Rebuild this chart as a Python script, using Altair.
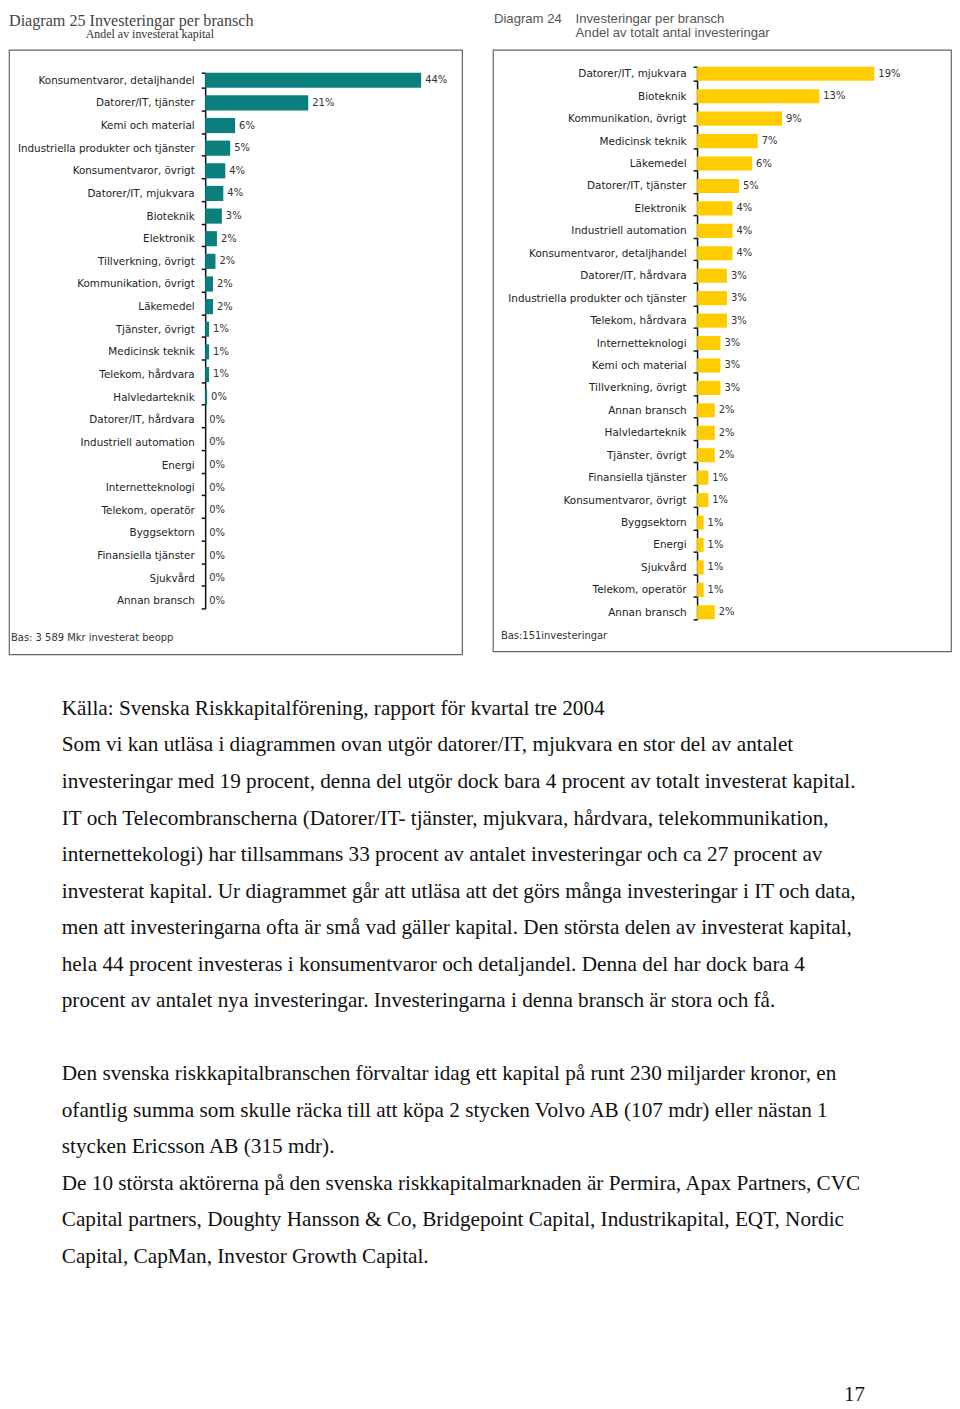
import json
import altair as alt
import pandas as pd

# ---------------- data ----------------
left_categories = [
    "Konsumentvaror, detaljhandel", "Datorer/IT, tjänster", "Kemi och material",
    "Industriella produkter och tjänster", "Konsumentvaror, övrigt", "Datorer/IT, mjukvara",
    "Bioteknik", "Elektronik", "Tillverkning, övrigt", "Kommunikation, övrigt", "Läkemedel",
    "Tjänster, övrigt", "Medicinsk teknik", "Telekom, hårdvara", "Halvledarteknik",
    "Datorer/IT, hårdvara", "Industriell automation", "Energi", "Internetteknologi",
    "Telekom, operatör", "Byggsektorn", "Finansiella tjänster", "Sjukvård", "Annan bransch",
]
left_values = [44, 21, 6.1, 5.1, 4.1, 3.7, 3.4, 2.4, 2.1, 1.6, 1.6, 0.8, 0.8, 0.8, 0.4,
               0, 0, 0, 0, 0, 0, 0, 0, 0]
left_labels = ["44%", "21%", "6%", "5%", "4%", "4%", "3%", "2%", "2%", "2%", "2%", "1%",
               "1%", "1%", "0%", "0%", "0%", "0%", "0%", "0%", "0%", "0%", "0%", "0%"]

right_categories = [
    "Datorer/IT, mjukvara", "Bioteknik", "Kommunikation, övrigt", "Medicinsk teknik",
    "Läkemedel", "Datorer/IT, tjänster", "Elektronik", "Industriell automation",
    "Konsumentvaror, detaljhandel", "Datorer/IT, hårdvara", "Industriella produkter och tjänster",
    "Telekom, hårdvara", "Internetteknologi", "Kemi och material", "Tillverkning, övrigt",
    "Annan bransch", "Halvledarteknik", "Tjänster, övrigt", "Finansiella tjänster",
    "Konsumentvaror, övrigt", "Byggsektorn", "Energi", "Sjukvård", "Telekom, operatör",
    "Annan bransch",
]
right_values = [19, 13.1, 9.1, 6.5, 5.9, 4.5, 3.8, 3.8, 3.8, 3.2, 3.2, 3.2, 2.5, 2.5, 2.5,
                1.9, 1.9, 1.9, 1.2, 1.2, 0.7, 0.7, 0.7, 0.7, 1.9]
right_labels = ["19%", "13%", "9%", "7%", "6%", "5%", "4%", "4%", "4%", "3%", "3%", "3%",
                "3%", "3%", "3%", "2%", "2%", "2%", "1%", "1%", "1%", "1%", "1%", "1%", "2%"]

left_title = "Diagram 25 Investeringar per bransch"
left_subtitle = "Andel av investerat kapital"
left_note = "Bas: 3 589 Mkr investerat beopp"
right_title_a = "Diagram 24"
right_title_b = "Investeringar per bransch"
right_subtitle = "Andel av totalt antal investeringar"
right_note = "Bas:151investeringar"

text_lines = [
    "Källa: Svenska Riskkapitalförening, rapport för kvartal tre 2004",
    "Som vi kan utläsa i diagrammen ovan utgör datorer/IT, mjukvara en stor del av antalet",
    "investeringar med 19 procent, denna del utgör dock bara 4 procent av totalt investerat kapital.",
    "IT och Telecombranscherna (Datorer/IT- tjänster, mjukvara, hårdvara, telekommunikation,",
    "internettekologi) har tillsammans 33 procent av antalet investeringar och ca 27 procent av",
    "investerat kapital. Ur diagrammet går att utläsa att det görs många investeringar i IT och data,",
    "men att investeringarna ofta är små vad gäller kapital. Den största delen av investerat kapital,",
    "hela 44 procent investeras i konsumentvaror och detaljandel. Denna del har dock bara 4",
    "procent av antalet nya investeringar. Investeringarna i denna bransch är stora och få.",
    "",
    "Den svenska riskkapitalbranschen förvaltar idag ett kapital på runt 230 miljarder kronor, en",
    "ofantlig summa som skulle räcka till att köpa 2 stycken Volvo AB (107 mdr) eller nästan 1",
    "stycken Ericsson AB (315 mdr).",
    "De 10 största aktörerna på den svenska riskkapitalmarknaden är Permira, Apax Partners, CVC",
    "Capital partners, Doughty Hansson & Co, Bridgepoint Capital, Industrikapital, EQT, Nordic",
    "Capital, CapMan, Investor Growth Capital.",
]
page_number = "17"

SANS = "Liberation Sans"
WIDE = "DejaVu Sans"
SERIF = "Liberation Serif"


def label_expr(cats):
    return "[" + ",".join(json.dumps(c, ensure_ascii=False) for c in cats) + "][datum.value]"


def panel(cats, vals, labs, color, w, h, axis_x, yrange, xdomain, px_per_unit,
          pad_inner, label_size, titles, note):
    df = pd.DataFrame({"idx": list(range(len(cats))), "value": vals, "label": labs})
    y = alt.Y(
        "idx:O",
        scale=alt.Scale(range=yrange, paddingInner=pad_inner, paddingOuter=0),
        axis=alt.Axis(
            title=None, labelExpr=label_expr(cats), offset=-axis_x, tickBand="extent",
            domainColor="#111", domainWidth=1.5, tickColor="#111", tickWidth=1.5, tickSize=4,
            labelFont=WIDE, labelFontSize=label_size, labelColor="#222", labelPadding=7,
            labelLimit=300, grid=False,
        ),
    )
    x = alt.X(
        "value:Q",
        scale=alt.Scale(domain=xdomain, range=[axis_x, axis_x + px_per_unit * xdomain[1]]),
        axis=None,
    )
    base = alt.Chart(df)
    bars = base.mark_bar(color=color).encode(x=x, y=y)
    txt = base.mark_text(align="left", baseline="middle", dx=4, font=WIDE, fontSize=10,
                         color="#333").encode(x=x, y=y, text="label:N")
    layers = [bars, txt]
    for (t, tx, ty, font, size, color_t) in titles:
        layers.append(
            alt.Chart(pd.DataFrame({"t": [t]})).mark_text(
                align="left", baseline="top", font=font, fontSize=size, color=color_t
            ).encode(x=alt.value(tx), y=alt.value(ty), text="t:N")
        )
    nt, nx, ny = note
    layers.append(
        alt.Chart(pd.DataFrame({"t": [nt]})).mark_text(
            align="left", baseline="middle", font=WIDE, fontSize=10, color="#333"
        ).encode(x=alt.value(nx), y=alt.value(ny), text="t:N")
    )
    return alt.layer(*layers).properties(
        width=w, height=h, view=alt.ViewBackground(stroke="#666", strokeWidth=1.2)
    )


left = panel(
    left_categories, left_values, left_labels, "#0b7f7c", 455, 607, 197, [23, 561],
    [0, 50], 4.93, 0.33, 10.4,
    [(left_title, 0, -37, SERIF, 16.2, "#444"), (left_subtitle, 77, -21, SERIF, 12, "#333")],
    (left_note, 2, 591),
)
right = panel(
    right_categories, right_values, right_labels, "#ffcc00", 460, 604, 205, [17, 572],
    [0, 25], 9.37, 0.37, 10.5,
    [(right_title_a, 1, -37, SANS, 13.2, "#555"), (right_title_b, 83, -37, SANS, 13.2, "#555"),
     (right_subtitle, 83, -23, SANS, 13.2, "#555")],
    (right_note, 8, 589),
)

tdf = pd.DataFrame({"row": list(range(len(text_lines))), "line": text_lines})
body = alt.Chart(tdf).mark_text(
    align="left", baseline="middle", font=SERIF, fontSize=21.3, color="#111"
).encode(
    x=alt.value(53),
    y=alt.Y("row:Q", scale=alt.Scale(domain=[0, len(text_lines) - 1],
                                     range=[53, 53 + 36.67 * (len(text_lines) - 1)]), axis=None),
    text="line:N",
)
pnum = alt.Chart(pd.DataFrame({"t": [page_number]})).mark_text(
    align="center", baseline="middle", font=SERIF, fontSize=21, color="#111"
).encode(x=alt.value(849), y=alt.value(742), text="t:N")
text_chart = alt.layer(body, pnum).properties(
    width=944, height=735, view=alt.ViewBackground(stroke="transparent")
)

top = alt.hconcat(left, right, spacing=29)
chart = alt.vconcat(top, text_chart, spacing=0).properties(padding=0).configure_view(
    stroke="transparent"
)

chart.save("out.html", embed_options={"renderer": "svg", "actions": False})
